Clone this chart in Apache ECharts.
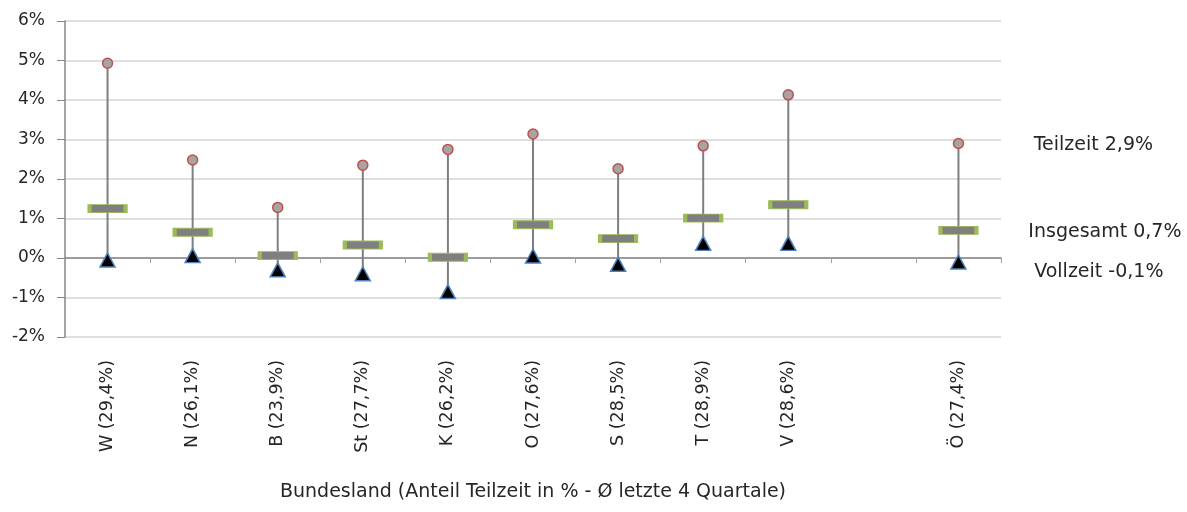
<!DOCTYPE html>
<html>
<head>
<meta charset="utf-8">
<script src="https://cdn.jsdelivr.net/npm/echarts@6/dist/echarts.min.js"></script>
<style>
    html, body { margin: 0; padding: 0; background: #fff; }
    #chart { width: 1187px; height: 512px; }
</style>
</head>
<body>
<div id="chart"></div>
<script>
const categories = ["W (29,4%)", "N (26,1%)", "B (23,9%)", "St (27,7%)", "K (26,2%)", "O (27,6%)", "S (28,5%)", "T (28,9%)", "V (28,6%)", "", "Ö (27,4%)"];
const teilzeit = [4.93, 2.48, 1.28, 2.35, 2.75, 3.14, 2.26, 2.84, 4.13, null, 2.9];
const insgesamt = [1.25, 0.65, 0.06, 0.33, 0.02, 0.84, 0.49, 1.01, 1.35, null, 0.7];
const vollzeit = [-0.05, 0.06, -0.3, -0.4, -0.85, 0.05, -0.16, 0.37, 0.37, null, -0.1];
const yTicks = [-2, -1, 0, 1, 2, 3, 4, 5, 6];

const font = "DejaVu Sans";
const textColor = "#262626";

function fmt(v) {
    return v.toFixed(1).replace(".", ",") + "%";
}

// only the last point (Österreich) gets the side label
function withLabel(values, name, pos) {
    const last = values.length - 1;
    return values.map((v, i) => {
        if (v === null) return [i, "-"];
        if (i !== last) return [i, v];
        return {
            value: [i, v],
            label: {
                show: true,
                position: pos,
                align: "left",
                verticalAlign: "middle",
                formatter: name + " " + fmt(v),
                fontFamily: font,
                fontSize: 19,
                color: textColor
            }
        };
    });
}

const rangeData = categories.map((c, i) => [i, vollzeit[i], teilzeit[i]]).filter(d => d[1] !== null);

const chart = echarts.init(document.getElementById("chart"));
chart.setOption({
    animation: false,
    backgroundColor: "#fff",
    grid: { left: 65, right: 186, top: 21, bottom: 175 },
    xAxis: [
        {
            type: "category",
            data: categories,
            position: "bottom",
            axisLine: { show: false, onZero: false },
            axisTick: { show: false },
            axisLabel: {
                rotate: 90,
                margin: 23,
                interval: 0,
                fontFamily: font,
                fontSize: 17.5,
                color: textColor
            },
            name: "Bundesland (Anteil Teilzeit in % - Ø letzte 4 Quartale)",
            nameLocation: "middle",
            nameGap: 146,
            nameTextStyle: { fontFamily: font, fontSize: 19, color: textColor }
        },
        {
            type: "category",
            data: categories,
            position: "bottom",
            axisLine: { show: true, onZero: true, lineStyle: { color: "#868686", width: 1.5 } },
            axisTick: { show: true, length: 5, lineStyle: { color: "#a0a0a0" } },
            axisLabel: { show: false }
        }
    ],
    yAxis: {
        type: "value",
        min: yTicks[0],
        max: yTicks[yTicks.length - 1],
        interval: 1,
        axisLine: { show: true, lineStyle: { color: "#868686", width: 1.5 } },
        axisTick: { show: true, length: 8, lineStyle: { color: "#868686" } },
        axisLabel: {
            margin: 20,
            fontFamily: font,
            fontSize: 17,
            color: textColor,
            formatter: v => v + "%"
        },
        splitLine: { lineStyle: { color: "#d4d4d4", width: 1.5 } }
    },
    series: [
        {
            type: "custom",
            data: rangeData,
            z: 1,
            renderItem: function (params, api) {
                const low = api.coord([api.value(0), api.value(1)]);
                const high = api.coord([api.value(0), api.value(2)]);
                return {
                    type: "line",
                    shape: { x1: low[0], y1: low[1], x2: high[0], y2: high[1] },
                    style: { stroke: "#7f7f7f", lineWidth: 2 }
                };
            }
        },
        {
            name: "Insgesamt",
            type: "scatter",
            z: 3,
            symbol: "rect",
            symbolSize: [36, 8],
            itemStyle: { color: "#7f7f7f", borderColor: "#9bbb59", borderWidth: 2, opacity: 1 },
            data: withLabel(insgesamt, "Insgesamt", [90, 6])
        },
        {
            name: "Teilzeit",
            type: "scatter",
            z: 4,
            symbol: "circle",
            symbolSize: 10,
            itemStyle: { color: "#a5a5a5", borderColor: "#c0504d", borderWidth: 1.5, opacity: 1 },
            data: withLabel(teilzeit, "Teilzeit", [81, 7])
        },
        {
            name: "Vollzeit",
            type: "scatter",
            z: 4,
            symbol: "triangle",
            symbolSize: [15, 14],
            itemStyle: { color: "#000", borderColor: "#4f81bd", borderWidth: 1.5, opacity: 1 },
            data: withLabel(vollzeit, "Vollzeit", [84, 18])
        }
    ]
});
</script>
</body>
</html>
